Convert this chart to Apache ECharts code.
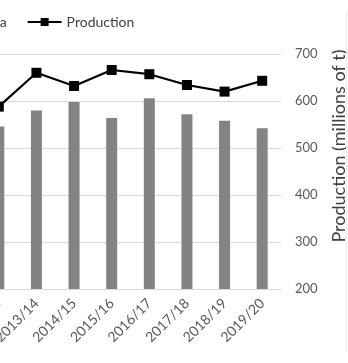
<!DOCTYPE html>
<html><head><meta charset="utf-8">
<script src="https://cdn.jsdelivr.net/npm/echarts@6/dist/echarts.min.js"></script>
<style>html,body{margin:0;padding:0;background:#fff}#c{width:348px;height:363px}</style>
</head><body><div id="c"></div>
<script>
var categories = ['2012/13','2013/14','2014/15','2015/16','2016/17','2017/18','2018/19','2019/20'];
var areaValues = [173, 190, 199, 182, 203, 186, 179, 171];
var productionValues = [588, 660, 632, 666, 657, 634, 620, 643];
var productionTicks = [200, 300, 400, 500, 600, 700];

var chart = echarts.init(document.getElementById('c'), null, {renderer:'canvas'});
var font = 'Lato, "Open Sans", sans-serif';
chart.setOption({
  animation: false,
  backgroundColor: '#fff',
  legend: {
    left: -66, top: 10,
    itemGap: 20, itemWidth: 34, itemHeight: 10,
    textStyle: {fontFamily: font, fontSize: 14, color: '#404040'},
    data: [{name:'Area', icon:'rect'}, {name:'Production'}]
  },
  grid: {left: -20, right: 67, top: 54, bottom: 74, containLabel: false, outerBoundsMode: 'none'},
  xAxis: {
    type: 'category', data: categories,
    axisLine: {lineStyle: {color: '#d9d9d9'}},
    axisTick: {show: false},
    axisLabel: {rotate: 45, fontFamily: font, fontSize: 14, color: '#595959', margin: 12, interval: 0}
  },
  yAxis: [
    {type: 'value', position: 'left', min: 0, max: 250, interval: 50, show: false, splitLine: {show: false}},
    {type: 'value', position: 'right', min: productionTicks[0], max: productionTicks[productionTicks.length-1], interval: 100,
     axisLine: {show: false}, axisTick: {show: false},
     axisLabel: {fontFamily: font, fontSize: 13, color: '#595959', margin: 14},
     splitLine: {lineStyle: {color: '#d9d9d9', width: 1}}}
  ],
  series: [
    {name: 'Area', type: 'bar', yAxisIndex: 0, data: areaValues, barWidth: 11,
     itemStyle: {color: '#838383'}},
    {name: 'Production', type: 'line', yAxisIndex: 1, data: productionValues,
     symbol: 'rect', symbolSize: 10,
     lineStyle: {color: '#000', width: 2.2}, itemStyle: {color: '#000'}}
  ],
  graphic: [
    {type: 'text', x: 339, y: 146, rotation: Math.PI/2,
     style: {text: 'Production (millions of t)', fontFamily: font, fontSize: 18, fill: '#404040', align: 'center', verticalAlign: 'middle'}},
    {type: 'line', shape: {x1: 346.5, y1: 12, x2: 346.5, y2: 350}, style: {stroke: '#ececec', lineWidth: 1}}
  ]
});
</script></body></html>
